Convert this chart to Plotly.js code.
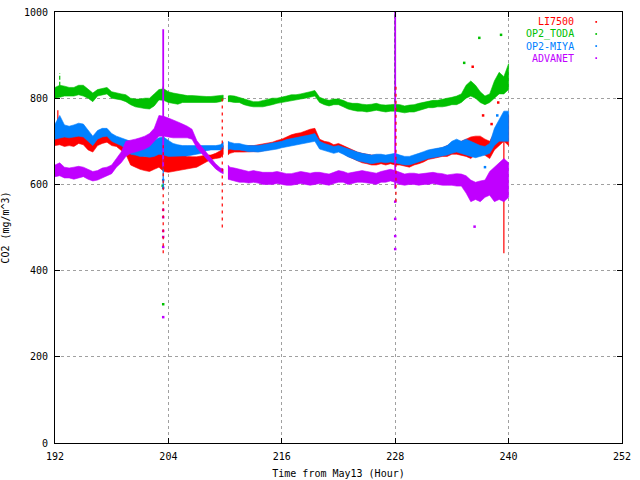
<!DOCTYPE html>
<html>
<head>
<meta charset="utf-8">
<script src="https://cdn.plot.ly/plotly-3.0.1.min.js"></script>
<style>
  body { margin: 0; background: #fff; }
  #myDiv { width: 640px; height: 480px; }
</style>
</head>
<body>
<div id="myDiv"></div>
<script>
// hours since May13 00:00, null = logger gap
var hours = [192,192.5,193,193.5,194,194.5,195,195.5,196,196.5,
    197,197.5,198,198.5,199,199.5,200,200.5,201,201.5,
    202,202.5,203,203.5,204,204.5,205,205.5,206,206.5,
    207,207.5,208,208.5,209,209.5,209.8,
    null,
    210.3,210.5,211,211.5,212,212.5,213,213.5,214,214.5,
    215,215.5,216,216.5,217,217.5,218,218.5,219,219.5,
    220,220.5,221,221.5,222,222.5,223,223.5,224,224.5,
    225,225.5,226,226.5,227,227.5,228,228.5,229,229.5,
    230,230.5,231,231.5,232,232.5,233,233.5,234,234.5,
    235,235.5,236,236.5,237,237.5,238,238.5,239,239.5,
    240];

// LI7500 (low / high edge of the noisy band)
var li7500Lo = [690,692,688,690,688,695,692,680,675,690,
    695,698,690,688,680,670,645,640,635,632,
    630,635,640,630,628,630,632,635,636,638,
    640,645,652,658,660,662,670,
    null,
    668,672,675,675,675,675,676,676,678,680,
    682,685,688,692,695,698,700,702,705,705,
    685,682,680,675,678,672,665,660,655,650,
    648,645,645,648,645,648,645,645,642,640,
    645,648,652,658,660,662,665,665,670,670,
    668,665,660,670,675,668,660,680,690,700,
    690];
var li7500Hi = [715,712,722,712,710,718,715,712,700,710,
    715,718,712,708,705,695,685,670,668,665,
    665,670,685,690,684,680,672,668,665,664,
    664,666,668,668,672,678,690,
    null,
    690,690,688,690,688,690,690,692,695,696,
    698,702,705,710,715,718,720,724,728,730,
    705,700,698,692,695,690,685,680,675,672,
    670,668,668,668,665,668,670,665,662,660,
    665,668,672,678,680,682,685,690,695,698,
    700,705,710,712,712,705,700,720,740,760,
    760];

// OP2_TODA
var todaLo = [800,802,805,805,805,808,805,800,792,805,
    808,810,800,798,796,792,785,780,778,776,
    775,782,796,795,790,788,786,790,790,790,
    790,790,790,790,790,792,795,
    null,
    792,792,790,790,785,782,780,780,780,782,
    785,788,790,792,795,796,798,800,802,805,
    790,785,782,785,785,780,775,772,770,770,
    768,770,772,770,768,770,770,768,766,768,
    768,772,775,778,778,780,780,782,785,785,
    790,800,805,800,790,785,790,800,810,810,
    820];
var todaHi = [825,830,828,825,825,830,830,822,812,820,
    822,825,815,812,810,808,800,798,798,800,
    800,810,820,822,815,812,810,808,806,806,
    805,805,804,804,805,806,807,
    null,
    805,806,805,802,798,795,792,792,795,797,
    800,800,802,805,808,808,810,812,815,818,
    802,798,795,798,798,795,790,788,788,786,
    785,786,788,785,784,785,786,785,782,784,
    785,788,790,792,795,795,798,800,802,805,
    810,830,840,830,815,805,810,840,860,850,
    880];

// OP2-MIYA
var miyaLo = [705,708,710,708,710,712,710,700,690,705,
    710,712,700,695,690,682,670,668,665,665,
    663,665,670,668,665,666,666,666,666,668,
    670,672,678,680,680,680,682,
    null,
    680,682,680,680,678,676,676,675,676,678,
    680,682,685,688,690,692,694,696,698,700,
    682,678,675,672,675,670,664,660,655,652,
    650,648,650,652,650,652,650,648,645,645,
    648,652,656,660,662,664,666,668,672,675,
    672,668,665,662,665,668,672,690,700,700,
    700];
var miyaHi = [740,760,738,735,738,742,740,725,712,725,
    730,730,718,712,708,705,700,698,700,702,
    702,702,708,710,702,695,692,690,690,690,
    690,690,690,690,690,692,698,
    null,
    700,698,695,695,692,690,690,690,692,694,
    696,698,700,704,706,708,710,712,715,718,
    700,695,692,688,690,686,682,678,675,672,
    670,668,670,670,668,670,672,668,665,665,
    668,672,676,680,682,684,686,690,700,705,
    700,705,700,695,690,688,695,730,750,770,
    770];

// ADVANET
var advanetLo = [618,620,615,615,612,615,618,612,608,610,
    615,620,625,640,650,665,672,675,678,682,
    688,700,712,712,710,708,708,708,708,705,
    685,672,658,648,636,628,625,
    null,
    612,610,608,605,605,603,605,603,600,600,
    600,602,600,598,598,600,602,600,598,600,
    602,600,598,602,605,605,600,602,605,605,
    604,602,600,605,605,608,605,600,598,600,
    600,598,600,600,602,600,598,598,598,596,
    596,580,560,565,560,570,575,560,565,560,
    570];
var advanetHi = [645,650,640,638,640,642,640,635,630,632,
    638,640,645,660,675,700,702,705,708,712,
    718,730,760,758,754,750,745,740,735,728,
    702,688,675,662,648,638,636,
    null,
    645,640,638,635,632,630,632,630,628,628,
    628,630,628,625,625,628,630,628,626,628,
    628,626,624,628,632,630,626,628,630,632,
    630,628,626,630,632,635,632,628,624,626,
    626,624,625,626,628,626,625,622,624,625,
    624,620,610,605,608,610,630,640,650,660,
    650];

// single-sample spikes (time, low, high)
var li7500SpikeT = [192.3, 239.5];
var li7500SpikeLo = [700, 440];
var li7500SpikeHi = [772, 700];
var li7500DotSpikeT = [203.45, 209.7, 228.08];
var li7500DotSpikeLo = [440, 500, 560];
var li7500DotSpikeHi = [700, 800, 830];
var todaSpikeT = [227.95, 203.45, 192.5];
var todaSpikeLo = [790, 790, 815];
var todaSpikeHi = [1000, 830, 858];
var miyaSpikeT = [203.45];
var miyaSpikeLo = [590];
var miyaSpikeHi = [700];
var advanetSpikeT = [203.45, 228];
var advanetSpikeLo = [640, 590];
var advanetSpikeHi = [960, 1000];

// stray samples
var li7500DotT = [236.2, 237.3, 238.2, 238.9, 239.7];
var li7500DotV = [873, 760, 740, 790, 820];
var todaDotT = [203.45, 203.4, 235.3, 236.9, 239.2];
var todaDotV = [322, 597, 882, 940, 947];
var miyaDotT = [203.45, 203.45, 237.5, 238.8];
var miyaDotV = [610, 592, 640, 760];
var advanetDotT = [203.45, 203.45, 203.45, 203.45, 203.45, 203.45, 228, 228, 228, 228, 236.4];
var advanetDotV = [541, 524, 492, 478, 455, 292, 560, 520, 480, 450, 502];

var seriesNames = ['LI7500', 'OP2_TODA', 'OP2-MIYA', 'ADVANET'];
var seriesColors = ['#ff0000', '#00c000', '#0080ff', '#c000ff'];

var monoFont = 'DejaVu Sans Mono, Liberation Mono, monospace';

// closed polygon per gap-free segment: high edge forward, low edge back
function bandTrace(t, lo, hi, color) {
    var x = [], y = [];
    var segT = [], segLo = [], segHi = [];
    function flush() {
        if (segT.length == 0) return;
        for (var k = 0; k < segT.length; k++) { x.push(segT[k]); y.push(segHi[k]); }
        for (var k = segT.length - 1; k >= 0; k--) { x.push(segT[k]); y.push(segLo[k]); }
        x.push(null); y.push(null);
        segT = []; segLo = []; segHi = [];
    }
    for (var i = 0; i < t.length; i++) {
        if (t[i] === null) { flush(); continue; }
        segT.push(t[i]); segLo.push(lo[i]); segHi.push(hi[i]);
    }
    flush();
    return {
        x: x, y: y, type: 'scatter', mode: 'lines',
        fill: 'toself', fillcolor: color,
        line: {color: color, width: 0.6},
        hoverinfo: 'skip', showlegend: false
    };
}

function spikeTrace(t, lo, hi, color, dash, width) {
    var x = [], y = [];
    for (var i = 0; i < t.length; i++) {
        x.push(t[i], t[i], null);
        y.push(lo[i], hi[i], null);
    }
    return {
        x: x, y: y, type: 'scatter', mode: 'lines',
        line: {color: color, width: width || 1.2, dash: dash || 'solid'},
        hoverinfo: 'skip', showlegend: false
    };
}

function dotTrace(t, v, color) {
    return {
        x: t, y: v, type: 'scatter', mode: 'markers',
        marker: {color: color, size: 2.5, symbol: 'square'},
        hoverinfo: 'skip', showlegend: false
    };
}

var red = seriesColors[0], green = seriesColors[1], blue = seriesColors[2], purple = seriesColors[3];

var plotlyData = [
    bandTrace(hours, li7500Lo, li7500Hi, red),
    spikeTrace(li7500SpikeT, li7500SpikeLo, li7500SpikeHi, red),
    dotTrace(li7500DotT, li7500DotV, red),

    bandTrace(hours, todaLo, todaHi, green),
    spikeTrace(todaSpikeT, todaSpikeLo, todaSpikeHi, green, '4px,2px'),
    dotTrace(todaDotT, todaDotV, green),

    bandTrace(hours, miyaLo, miyaHi, blue),
    spikeTrace(miyaSpikeT, miyaSpikeLo, miyaSpikeHi, blue),
    dotTrace(miyaDotT, miyaDotV, blue),

    bandTrace(hours, advanetLo, advanetHi, purple),
    spikeTrace(advanetSpikeT, advanetSpikeLo, advanetSpikeHi, purple, 'solid', 1.8),
    dotTrace(advanetDotT, advanetDotV, purple),

    // red dotted spikes sit beside the purple ones in the reference
    spikeTrace(li7500DotSpikeT, li7500DotSpikeLo, li7500DotSpikeHi, red, '3px,4px')
];

// gnuplot style key: right aligned names, tiny sample dot to the right
var annotations = [];
var shapes = [];
for (var i = 0; i < seriesNames.length; i++) {
    var yPos = 0.977 - i * 0.028;
    annotations.push({
        xref: 'paper', yref: 'paper', x: 0.918, y: yPos,
        xanchor: 'right', yanchor: 'middle', showarrow: false,
        text: seriesNames[i],
        font: {family: monoFont, size: 10, color: seriesColors[i]}
    });
    shapes.push({
        type: 'rect', xref: 'paper', yref: 'paper',
        x0: 0.953, x1: 0.956, y0: yPos - 0.002, y1: yPos + 0.002,
        fillcolor: seriesColors[i], line: {width: 0}
    });
}

var axisCommon = {
    showline: true, linecolor: '#000', linewidth: 1, mirror: 'allticks',
    ticks: 'inside', ticklen: 5, tickcolor: '#000', tickwidth: 1,
    showgrid: true, gridcolor: '#a0a0a0', griddash: '3px,3px', gridwidth: 1,
    zeroline: false, fixedrange: true,
    tickfont: {family: monoFont, size: 10, color: '#000'}
};

var layout = {
    width: 640, height: 480,
    margin: {l: 55, r: 18, t: 12, b: 37},
    paper_bgcolor: '#fff', plot_bgcolor: '#fff',
    showlegend: false,
    xaxis: Object.assign({}, axisCommon, {
        range: [192, 252], tick0: 192, dtick: 12,
        ticklabelstandoff: 4,
        title: {text: 'Time from May13 (Hour)', standoff: 8,
                font: {family: monoFont, size: 10, color: '#000'}}
    }),
    yaxis: Object.assign({}, axisCommon, {
        range: [0, 1000], tick0: 0, dtick: 200,
        ticklabelstandoff: 4,
        title: {text: 'CO2 (mg/m^3)', standoff: 12,
                font: {family: monoFont, size: 10, color: '#000'}}
    }),
    annotations: annotations,
    shapes: shapes
};

Plotly.newPlot('myDiv', plotlyData, layout, {displayModeBar: false, staticPlot: true});
</script>
</body>
</html>
